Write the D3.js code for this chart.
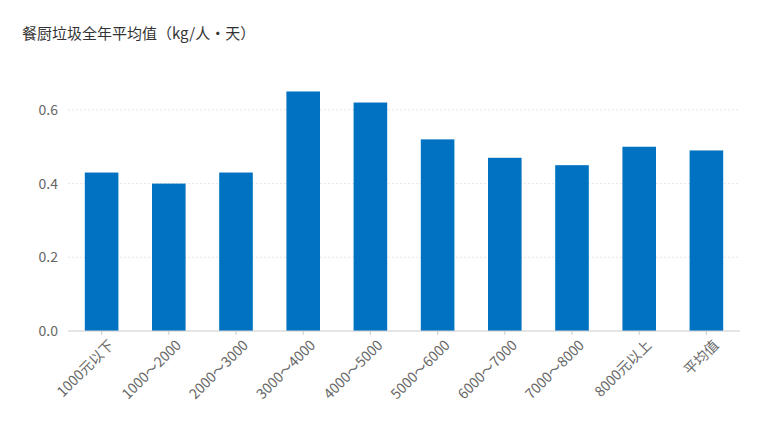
<!DOCTYPE html>
<html><head><meta charset="utf-8">
<script src="https://cdn.jsdelivr.net/npm/d3@7"></script>
<style>body{margin:0;background:#fff;}text{font-family:"Noto Sans CJK SC","Noto Sans",sans-serif;}</style>
</head><body><svg id="c" width="759" height="443"></svg>
<script>
const categories=["1000元以下","1000～2000","2000～3000","3000～4000","4000～5000","5000～6000","6000～7000","7000～8000","8000元以上","平均值"];
const values=[0.43,0.40,0.43,0.65,0.62,0.52,0.47,0.45,0.50,0.49];
const yTicks=[0,0.2,0.4,0.6];
const svg=d3.select("#c");
const m={l:68,r:19,t:74,b:112};
const W=759,H=443;
const x=d3.scaleBand().domain(categories).range([m.l,W-m.r]).paddingInner(0.5).paddingOuter(0.25);
const y=d3.scaleLinear().domain([0,0.7]).range([H-m.b,H-m.b-0.7/0.2*73.7]);
svg.append("text").attr("x",22).attr("y",39).attr("font-size",15).attr("fill","#333").text("餐厨垃圾全年平均值（kg/人・天）");
const g=svg.append("g");
g.selectAll("line.grid").data(yTicks.slice(1)).join("line").attr("x1",m.l).attr("x2",W-m.r)
 .attr("y1",d=>y(d)).attr("y2",d=>y(d)).attr("stroke","#e6e6e6").attr("stroke-dasharray","2,2");
g.selectAll("text.yt").data(yTicks).join("text").attr("x",58).attr("y",d=>y(d)).attr("dy","0.35em")
 .attr("text-anchor","end").attr("font-size",14).attr("fill","#666").text(d=>d.toFixed(1));
g.selectAll("rect").data(values).join("rect").attr("x",(d,i)=>x(categories[i])).attr("width",x.bandwidth())
 .attr("y",d=>y(d)).attr("height",d=>y(0)-y(d)).attr("fill","#0072c1");
const ax=svg.append("g").attr("transform",`translate(0,${y(0)})`).call(d3.axisBottom(x).tickSize(4).tickSizeOuter(0).tickPadding(4).offset(x.bandwidth()/2*0));
ax.select(".domain").attr("stroke","#ccc");
ax.selectAll(".tick line").attr("stroke","#ccc");
ax.selectAll(".tick text").attr("font-size",14).attr("fill","#666").attr("text-anchor","end")
 .attr("transform","translate(4,6) rotate(-45)").attr("dy","0.35em");
</script></body></html>
